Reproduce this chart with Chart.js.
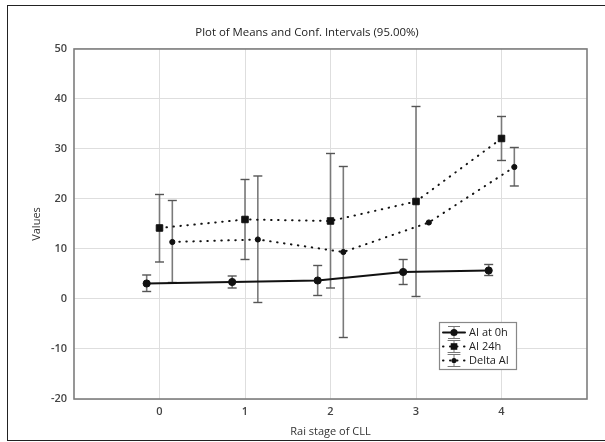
<!DOCTYPE html>
<html>
<head>
<meta charset="utf-8">
<script src="https://cdn.jsdelivr.net/npm/chart.js@4"></script>
<style>
  html, body { margin: 0; padding: 0; background: #fff; }
  #wrap { width: 605px; height: 442px; position: relative; }
</style>
</head>
<body>
<div id="wrap"><canvas id="c" width="605" height="442"></canvas></div>
<script>
// ---- data ----
const categories = [0, 1, 2, 3, 4];
const seriesNames = ["AI at 0h", "AI 24h", "Delta AI"];
const seriesOffsets = [-0.15, 0, 0.15];

const ai0Mean = [3.1, 3.4, 3.7, 5.4, 5.7];
const ai0Low  = [1.5, 2.2, 0.7, 2.9, 4.7];
const ai0High = [4.8, 4.6, 6.7, 7.9, 6.9];

const ai24Mean = [14.2, 15.9, 15.6, 19.5, 32.1];
const ai24Low  = [7.4, 7.9, 2.2, 0.5, 27.7];
const ai24High = [20.9, 23.9, 29.1, 38.5, 36.5];

const deltaMean = [11.4, 11.9, 9.4, 15.3, 26.4];
const deltaLow  = [3.3, -0.7, -7.7, null, 22.6];
const deltaHigh = [19.7, 24.6, 26.5, null, 30.3];

const yTicks = [-20, -10, 0, 10, 20, 30, 40, 50];

// ---- build datasets ----
const means = [ai0Mean, ai24Mean, deltaMean];
const lows = [ai0Low, ai24Low, deltaLow];
const highs = [ai0High, ai24High, deltaHigh];
const styles = [
  { dash: [], point: 'circle', radius: 3.6 },
  { dash: [0.5, 6.5], point: 'rect', radius: 4.6 },
  { dash: [0.5, 6.5], point: 'circle', radius: 2.6 }
];

const datasets = [];
means.forEach((m, s) => {
  datasets.push({
    label: seriesNames[s],
    data: categories.map((c, i) => ({ x: c + seriesOffsets[s], y: m[i] })),
    borderColor: '#111',
    backgroundColor: '#111',
    borderWidth: 2,
    borderDash: styles[s].dash,
    borderCapStyle: 'round',
    pointStyle: styles[s].point,
    pointRadius: styles[s].radius,
    pointBackgroundColor: '#111',
    pointBorderColor: '#111',
    pointBorderWidth: 1,
    tension: 0,
    order: 0
  });
});
means.forEach((m, s) => {
  categories.forEach((c, i) => {
    if (lows[s][i] === null) return;
    datasets.push({
      label: '',
      data: [{ x: c + seriesOffsets[s], y: lows[s][i] }, { x: c + seriesOffsets[s], y: highs[s][i] }],
      borderColor: '#7a7a7a',
      borderWidth: 1.6,
      pointStyle: 'line',
      pointRadius: 4.5,
      pointBorderColor: '#555',
      pointBorderWidth: 1.4,
      pointHoverRadius: 4.5,
      order: 1
    });
  });
});

// ---- plugins ----
const framePlugin = {
  id: 'frame',
  beforeDraw(chart) {
    const ctx = chart.ctx;
    ctx.save();
    ctx.fillStyle = '#fff';
    ctx.fillRect(0, 0, chart.width, chart.height);
    ctx.strokeStyle = '#222';
    ctx.lineWidth = 1;
    ctx.strokeRect(7.5, 5.5, chart.width, chart.height - 7);
    ctx.restore();
  },
  afterDraw(chart) {
    const ctx = chart.ctx;
    const a = chart.chartArea;
    ctx.save();
    ctx.strokeStyle = '#7d7d7d';
    ctx.lineWidth = 1.6;
    ctx.strokeRect(a.left, a.top, a.right - a.left, a.bottom - a.top);
    ctx.restore();

    // legend
    const lx = 439, ly = 322, lw = 77, lh = 47;
    ctx.save();
    ctx.fillStyle = '#fff';
    ctx.fillRect(lx, ly, lw, lh);
    ctx.strokeStyle = '#888';
    ctx.lineWidth = 1.2;
    ctx.strokeRect(lx + 0.5, ly + 0.5, lw, lh);
    ctx.font = "11px 'Open Sans', sans-serif";
    ctx.textBaseline = 'middle';
    seriesNames.forEach((name, s) => {
      const y = ly + 10.5 + s * 14;
      const gx0 = lx + 4, gx1 = lx + 26, gc = lx + 15;
      ctx.strokeStyle = '#777';
      ctx.lineWidth = 1;
      ctx.setLineDash([]);
      ctx.beginPath();
      ctx.moveTo(gc, y - 6); ctx.lineTo(gc, y + 6);
      ctx.moveTo(gc - 6, y - 6); ctx.lineTo(gc + 6, y - 6);
      ctx.moveTo(gc - 6, y + 6); ctx.lineTo(gc + 6, y + 6);
      ctx.stroke();
      ctx.strokeStyle = '#111';
      ctx.lineWidth = 2;
      ctx.lineCap = 'round';
      ctx.setLineDash(styles[s].dash);
      ctx.beginPath();
      ctx.moveTo(gx0, y); ctx.lineTo(gx1, y);
      ctx.stroke();
      ctx.setLineDash([]);
      ctx.fillStyle = '#111';
      if (styles[s].point === 'rect') {
        ctx.fillRect(gc - 3.3, y - 3.3, 6.6, 6.6);
      } else {
        ctx.beginPath();
        ctx.arc(gc, y, styles[s].radius, 0, Math.PI * 2);
        ctx.fill();
      }
      ctx.fillStyle = '#222';
      ctx.fillText(name, lx + 30, y);
    });
    ctx.restore();
  }
};

Chart.defaults.font.family = "'Open Sans', sans-serif";
Chart.defaults.color = '#333';

new Chart(document.getElementById('c'), {
  type: 'line',
  data: { datasets },
  plugins: [framePlugin],
  options: {
    responsive: false,
    animation: false,
    events: [],
    layout: { padding: { left: 9, right: 0, top: 0, bottom: 0 } },
    plugins: {
      legend: { display: false },
      tooltip: { enabled: false },
      title: {
        display: true,
        text: 'Plot of Means and Conf. Intervals (95.00%)',
        font: { size: 11.4, weight: 'normal' },
        color: '#222',
        padding: { top: 25.5, bottom: 9.8 }
      }
    },
    scales: {
      x: {
        type: 'linear',
        min: -1,
        max: 5,
        afterBuildTicks(scale) { scale.ticks = categories.map(v => ({ value: v })); },
        afterFit(scale) { scale.height = 43; },
        grid: { color: '#dedede', lineWidth: 1, drawTicks: false },
        border: { display: false },
        ticks: { padding: 6, font: { size: 11, weight: '600' }, color: '#444' },
        title: {
          display: true,
          text: 'Rai stage of CLL',
          font: { size: 11 },
          color: '#333',
          padding: { top: 0, bottom: 3.4 }
        }
      },
      y: {
        min: -20,
        max: 50,
        afterBuildTicks(scale) { scale.ticks = yTicks.map(v => ({ value: v })); },
        afterFit(scale) { scale.width = 65; },
        grid: { color: '#dedede', lineWidth: 1, drawTicks: false },
        border: { display: false },
        ticks: { padding: 7, font: { size: 11, weight: '600' }, color: '#444' },
        title: {
          display: true,
          text: 'Values',
          font: { size: 11 },
          color: '#333',
          padding: { top: 21.4, bottom: 0 }
        }
      },
      yRight: {
        position: 'right',
        min: -20,
        max: 50,
        afterFit(scale) { scale.width = 18; },
        grid: { display: false, drawTicks: false },
        border: { display: false },
        ticks: { display: false }
      }
    }
  }
});
</script>
</body>
</html>
